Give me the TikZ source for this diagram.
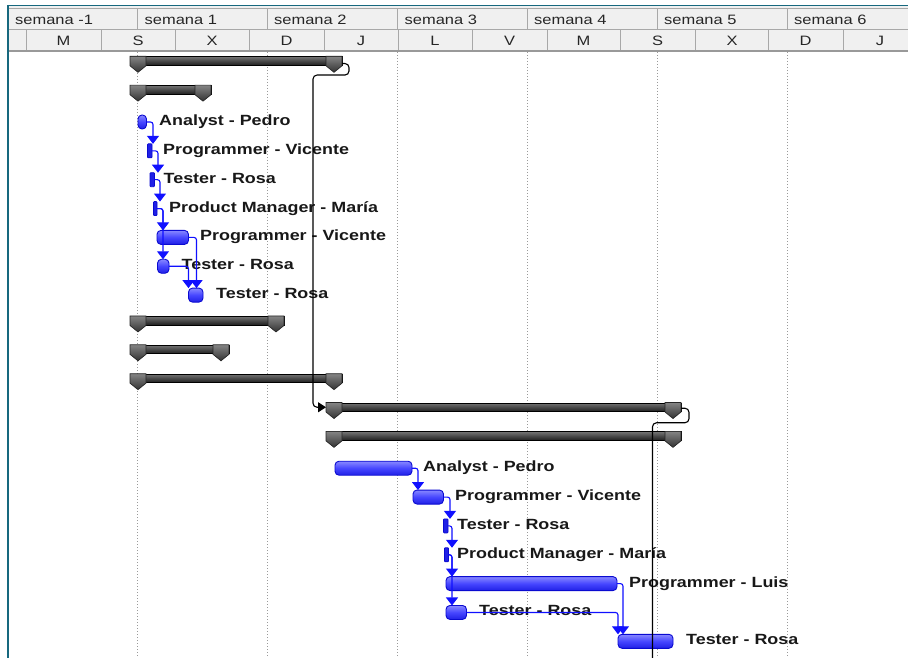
\documentclass[tikz,border=0pt]{standalone}
\usepackage{fontspec}
\usetikzlibrary{arrows.meta,calc}
\newfontfamily\ganttfont{Liberation Sans}[FakeStretch=1.21]
\definecolor{frameteal}{HTML}{17687E}
\definecolor{hdrfill}{HTML}{F0F0F0}
\definecolor{hdrrule}{HTML}{A8A8A8}
\definecolor{gridgray}{HTML}{9A9A9A}
\definecolor{barblue}{HTML}{4646FF}
\definecolor{barlight}{HTML}{8888FF}
\definecolor{bardark}{HTML}{2020E6}
\definecolor{baredge}{HTML}{0A0AD0}
\definecolor{linkblue}{HTML}{1010FF}
\definecolor{labelink}{HTML}{181818}

% task bar with its label: style, name, start x, end x, row centre, label x, text
\newcommand\gtask[7]{%
  \node[#1, minimum width={#4-#3}, anchor=west] (#2) at (#3,#5) {};
  \node[tasklabel] (#2l) at (#6,#5+3.5) {#7};}
% summary bar: name, start x, end x, row centre
\newcommand\gsum[4]{%
  \node[sumbody, minimum width={#3-#2}, anchor=north west] (#1) at (#2,#4-7.5) {};
  \gmark{#2}{#4}\gmark{#3-16}{#4}}
\newcommand\gmark[2]{%
  \draw[summark] (#1,#2-8) -- ++(16,0) -- ++(0,9.5) -- ++(-8,6.5) -- ++(-8,-6.5) -- cycle;}
% finish-to-start link: predecessor, successor, horizontal run
\newcommand\glink[3]{%
  \draw[link] (#1.east) -| ($(#1.east |- #2.north)+(#3,0)$);}

\begin{document}
\begin{tikzpicture}[x=1pt,y=-1pt,
  hdrtext/.style={font=\ganttfont\fontsize{13.6}{15}\selectfont, text=black!85, inner sep=0pt},
  tasklabel/.style={font=\ganttfont\bfseries\fontsize{14.8}{16}\selectfont, text=labelink, inner sep=0pt, anchor=base west},
  taskbar/.style={rectangle, rounded corners=4pt, minimum height=14pt, inner sep=0pt, outer sep=0pt,
    draw=baredge, line width=0.9pt, top color=barlight, bottom color=bardark, middle color=barblue},
  thinbar/.style={rectangle, rounded corners=0.8pt, minimum height=14pt, inner sep=0pt, outer sep=0pt,
    draw=baredge, line width=0.8pt, fill=bardark},
  sumbody/.style={rectangle, minimum height=8.5pt, inner sep=0pt, outer sep=0pt,
    draw=black, line width=0.9pt, top color=black!55, bottom color=black!88, middle color=black!72},
  summark/.style={draw=black!85, line width=0.7pt, top color=black!48, bottom color=black!80},
  link/.style={draw=linkblue, line width=1.1pt, rounded corners=2.5pt,
    -{Triangle[width=12pt,length=8pt]}},
  sumlink/.style={draw=black, line width=1.1pt, rounded corners=4pt},
  gridline/.style={draw=gridgray, line width=0.8pt, dash pattern=on 1pt off 2pt},
  hdrline/.style={draw=hdrrule, line width=1pt}
]
\useasboundingbox (0,0) rectangle (908,658);
\fill[white] (0,0) rectangle (908,658);

% ---- timescale header ----
\fill[hdrfill] (8,6) rectangle (908,50.5);
\draw[hdrline] (8,9) -- (908,9);
\draw[hdrline] (8,29.5) -- (908,29.5);
\draw[hdrline, line width=1.8pt, draw=black!40] (8,50.8) -- (908,50.8);
\foreach \x in {137.5,267,397.5,527,657,787}
  \draw[hdrline] (\x,9) -- (\x,29.5);
\foreach \x in {26,101,175,249,324,398,472,547,620.5,695,768,843}
  \draw[hdrline] (\x,29.5) -- (\x,50);

\foreach \x/\t [count=\i] in {8/{semana -1},137.5/{semana 1},267/{semana 2},397.5/{semana 3},527/{semana 4},657/{semana 5},787/{semana 6}}
  \node[hdrtext, anchor=base west] (wk\i) at (\x+7,25) {\t};
\foreach \x/\t [count=\i] in {63.5/M,138/S,212/X,286.5/D,361/J,435/L,509.5/V,583.5/M,657.5/S,732/X,805.5/D,880/J}
  \node[hdrtext, anchor=base] (day\i) at (\x,45.5) {\t};

% ---- week gridlines ----
\foreach \x in {137.5,267,397.5,527,657,787}
  \draw[gridline] (\x,52) -- (\x,658);

% ---- summary rows ----
\gsum{s1}{130}{342}{64.3}
\gsum{s2}{130}{211}{93.15}
\gsum{s10}{130}{284}{323.95}
\gsum{s11}{130}{229}{352.8}
\gsum{s12}{130}{342}{381.65}
\gsum{s13}{326}{681}{410.5}
\gsum{s14}{326}{681}{439.35}

% ---- first iteration ----
\gtask{taskbar}{t3}{138}{146.5}{122}{159}{Analyst - Pedro}
\gtask{thinbar}{t4}{147.5}{152}{150.85}{163}{Programmer - Vicente}
\gtask{thinbar}{t5}{150}{154.5}{179.7}{163.5}{Tester - Rosa}
\gtask{thinbar}{t6}{153.5}{157}{208.55}{169}{Product Manager - María}
\gtask{taskbar}{t7}{157}{188.5}{237.4}{200}{Programmer - Vicente}
\gtask{taskbar}{t8}{157.5}{169}{266.25}{181.5}{Tester - Rosa}
\gtask{taskbar}{t9}{188.5}{203}{295.1}{216}{Tester - Rosa}

% ---- second iteration ----
\gtask{taskbar}{t15}{335}{412}{468.2}{423}{Analyst - Pedro}
\gtask{taskbar}{t16}{413}{443.5}{497.05}{455}{Programmer - Vicente}
\gtask{thinbar}{t17}{443.5}{448}{525.9}{457}{Tester - Rosa}
\gtask{thinbar}{t18}{444.5}{448.5}{554.75}{457}{Product Manager - María}
\gtask{taskbar}{t19}{446}{617}{583.6}{629}{Programmer - Luis}
\gtask{taskbar}{t20}{446}{466.5}{612.45}{479}{Tester - Rosa}
\gtask{taskbar}{t21}{618}{673}{641.3}{686}{Tester - Rosa}

% ---- task links ----
\glink{t3}{t4}{6.5}
\glink{t4}{t5}{6}
\glink{t5}{t6}{5.5}
\glink{t6}{t7}{6}
\glink{t6}{t8}{6}
\glink{t7}{t9}{8}
\glink{t8}{t9}{19.5}
\glink{t15}{t16}{6}
\glink{t16}{t17}{6.5}
\glink{t17}{t18}{4}
\glink{t18}{t19}{3.5}
\glink{t18}{t20}{3.5}
\glink{t19}{t21}{6}
\glink{t20}{t21}{151.5}

% ---- links between summary rows ----
\coordinate (next) at (652.5,660);
\draw[sumlink, -{Triangle[width=10pt,length=8pt]}] ($(s1.east)+(0,2.5)$) -- ++(7,0) -- ++(0,11.5)
  -| ($(s13.west)+(-13,0)$) -- (s13.west);
\draw[sumlink] ($(s13.east)+(0,1)$) -- ++(8,0) -- ++(0,14.5) -| (next);

% ---- window frame ----
\draw[frameteal, line width=2.4pt] (7.8,5) -- (7.8,658);
\draw[frameteal, line width=1.4pt] (7,5.5) -- (908,5.5);
\end{tikzpicture}
\end{document}
